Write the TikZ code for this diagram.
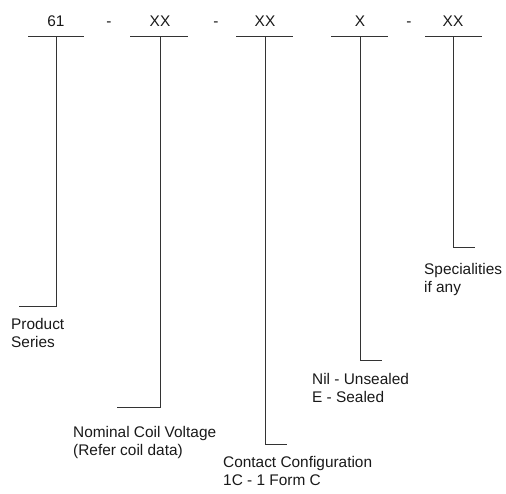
\documentclass[tikz,border=0pt]{standalone}
\usepackage{fontspec}
\setmainfont{Liberation Sans}
\usetikzlibrary{positioning,calc}
\tikzset{
  code/.style={inner sep=0pt, anchor=base, font=\fontsize{15.4}{18}\selectfont, text=black!90},
  desc/.style={inner sep=0pt, anchor=north west, align=left, font=\fontsize{15.4}{18}\selectfont, text=black!90},
  bar/.style={line width=0.8pt, draw=black!80}
}
\begin{document}
\begin{tikzpicture}[x=1pt,y=-1pt]
\useasboundingbox (0,0) rectangle (506,493);
% part number fields
\node[code] (f1) at (56,26) {61};
\node[code] (d1) at (109,26) {-};
\node[code] (f2) at (160,26) {XX};
\node[code] (d2) at (216,26) {-};
\node[code] (f3) at (265,26) {XX};
\node[code] (f4) at (360,26) {X};
\node[code] (d3) at (409,26) {-};
\node[code] (f5) at (453,26) {XX};
% underlines
\coordinate (t1) at (56,36);
\coordinate (t2) at (160,36);
\coordinate (t3) at (265,36);
\coordinate (t4) at (360,36);
\coordinate (t5) at (453,36);
\draw[bar] (28,36) -- (84,36);
\draw[bar] (130,36) -- (188,36);
\draw[bar] (236,36) -- (293,36);
\draw[bar] (331,36) -- (388,36);
\draw[bar] (425,36) -- (482,36);
% descriptions
\node[desc] (l1) at (11,318) {Product\\Series};
\node[desc] (l2) at (73,426) {Nominal Coil Voltage\\(Refer coil data)};
\node[desc] (l3) at (223,456) {Contact Configuration\\1C - 1 Form C};
\node[desc] (l4) at (312,373) {Nil - Unsealed\\E - Sealed};
\node[desc] (l5) at (424,263) {Specialities\\if any};
% feet
\coordinate (e1) at (19,306);
\coordinate (e2) at (117,407);
\coordinate (e3) at (287,444);
\coordinate (e4) at (382,360);
\coordinate (e5) at (475,247);
\draw[bar] (t1) |- (e1);
\draw[bar] (t2) |- (e2);
\draw[bar] (t3) |- (e3);
\draw[bar] (t4) |- (e4);
\draw[bar] (t5) |- (e5);
\end{tikzpicture}
\end{document}
